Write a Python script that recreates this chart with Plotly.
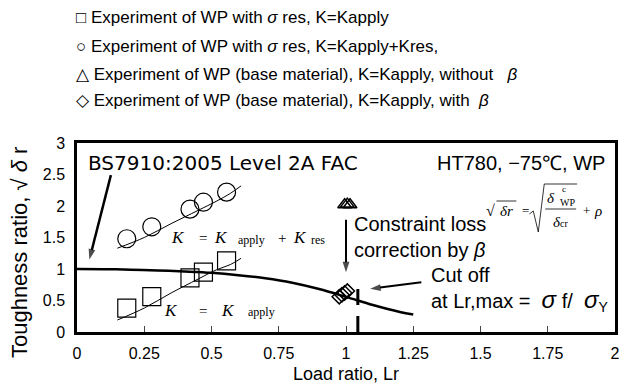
import plotly.graph_objects as go

# ---- data ----
sq_x = [0.185, 0.278, 0.42, 0.47, 0.556]
sq_y = [0.38, 0.56, 0.86, 0.95, 1.13]
ci_x = [0.185, 0.278, 0.42, 0.47, 0.556]
ci_y = [1.48, 1.67, 1.95, 2.06, 2.22]
tri_x = [0.995, 1.005, 1.015]
tri_y = [2.02, 2.03, 2.02]
dia_x = [0.975, 0.985, 0.995, 1.005]
dia_y = [0.56, 0.59, 0.62, 0.65]
fad_x = [0, 0.1, 0.2, 0.3, 0.4, 0.5, 0.6, 0.7, 0.8, 0.9, 1.0, 1.1, 1.2, 1.25]
fad_y = [1.0, 0.998, 0.99, 0.978, 0.961, 0.939, 0.902, 0.853, 0.782, 0.682, 0.558, 0.428, 0.318, 0.278]
kres_x = [0.15, 0.25, 0.35, 0.45, 0.52, 0.57, 0.61]
kres_y = [1.33, 1.5, 1.72, 1.93, 2.08, 2.2, 2.32]
kapp_x = [0.15, 0.25, 0.35, 0.45, 0.52, 0.57, 0.61]
kapp_y = [0.19, 0.38, 0.62, 0.84, 0.99, 1.07, 1.17]
cut_x = [1.044, 1.044]
cut_y = [0.0, 0.72]
x_ticks = [0, 0.25, 0.5, 0.75, 1, 1.25, 1.5, 1.75, 2]
x_ticktext = ["0", "0.25", "0.5", "0.75", "1", "1.25", "1.5", "1.75", "2"]
y_ticks = [0, 0.5, 1, 1.5, 2, 2.5, 3]
y_ticktext = ["0", "0.5", "1", "1.5", "2", "2.5", "3"]
legend_lines = [
    "□ Experiment of WP with <i>σ</i> res, K=Kapply",
    "○ Experiment of WP with <i>σ</i> res, K=Kapply+Kres,",
    "△ Experiment of WP (base material), K=Kapply, without&nbsp;&nbsp;&nbsp;<i>β</i>",
    "◇ Experiment of WP (base material), K=Kapply, with&nbsp;&nbsp;<i>β</i>",
]

FONT = "Liberation Sans, Arial, sans-serif"
WIDE = "DejaVu Sans, sans-serif"
SERIF = "Liberation Serif, Times New Roman, serif"

# layout geometry (pixels) used to place annotations
L, T, W, H = 77, 143, 540, 189


def X(px):
    return (px - L) / W * 2.0


def Y(py):
    return (T + H - py) / H * 3.0


fig = go.Figure()
fig.add_trace(go.Scatter(x=fad_x, y=fad_y, mode="lines", line=dict(color="black", width=2.5, shape="spline"), showlegend=False))
fig.add_trace(go.Scatter(x=kres_x, y=kres_y, mode="lines", line=dict(color="black", width=1, shape="spline"), showlegend=False))
fig.add_trace(go.Scatter(x=kapp_x, y=kapp_y, mode="lines", line=dict(color="black", width=1, shape="spline"), showlegend=False))
fig.add_trace(go.Scatter(x=cut_x, y=cut_y, mode="lines", line=dict(color="black", width=3, dash="16px,11px"), showlegend=False))
fig.add_trace(go.Scatter(x=sq_x, y=sq_y, mode="markers", marker=dict(symbol="square-open", size=18, color="black", line=dict(width=1.2)), showlegend=False))
fig.add_trace(go.Scatter(x=ci_x, y=ci_y, mode="markers", marker=dict(symbol="circle-open", size=18, color="black", line=dict(width=1.2)), showlegend=False))
fig.add_trace(go.Scatter(x=tri_x, y=tri_y, mode="markers", marker=dict(symbol="triangle-up-open", size=12, color="black", line=dict(width=1.5)), showlegend=False))
fig.add_trace(go.Scatter(x=dia_x, y=dia_y, mode="markers", marker=dict(symbol="diamond-open", size=11, color="black", line=dict(width=1.5)), showlegend=False))

# arrows (shaft + head) drawn as line traces with an arrow marker at the end
arrows = [((0.126, 2.49), (0.046, 1.15), 2.5), ((1.0, 1.78), (1.0, 0.95), 2), ((1.28, 0.79), (1.09, 0.685), 2)]
for (x0, y0), (x1, y1), w in arrows:
    fig.add_trace(go.Scatter(x=[x0, x1], y=[y0, y1], mode="lines+markers", showlegend=False, hoverinfo="skip",
                             line=dict(color="black", width=w),
                             marker=dict(symbol=["circle", "arrow"], size=[0, 11], color="black", angleref="previous",
                                         line=dict(width=0))))


def txt(text, x, y, size, family=FONT, xanchor="left", yanchor="middle", align="left"):
    return dict(text=text, x=x, y=y, xref="x", yref="y", xanchor=xanchor, yanchor=yanchor, align=align,
                showarrow=False, font=dict(family=family, size=size, color="black"))


ann = []
for i, t in enumerate(legend_lines):
    ann.append(dict(text=t, xref="paper", yref="paper", x=-0.005, y=1 + (143 - [17, 46, 74, 101][i]) / 189.0,
                    xanchor="left", yanchor="middle", showarrow=False,
                    font=dict(family=FONT, size=17, color="black")))

ann += [
    txt("BS7910:2005 Level 2A FAC", X(86), Y(163), 20, WIDE),
    txt("HT780, −75℃, WP", X(609), Y(163), 20, xanchor="right"),
    txt("Constraint loss<br>correction by <i>β</i>", X(353), Y(237), 20),
    txt("Cut off<br>at Lr,max =&nbsp;&nbsp;<span style='font-size:24px'><i>σ</i></span> f/&nbsp;&nbsp;<span style='font-size:24px'><i>σ</i></span><sub>Y</sub>",
        X(430), Y(289), 20),
    # K = K apply + K res
    txt("<i>K</i>", X(178), Y(237), 17, SERIF, xanchor="center"),
    txt("=", X(203), Y(238), 15, SERIF, xanchor="center"),
    txt("<i>K</i>", X(222), Y(237), 17, SERIF, xanchor="center"),
    txt("apply", X(252), Y(240), 12, SERIF, xanchor="center"),
    txt("+", X(283), Y(238), 15, SERIF, xanchor="center"),
    txt("<i>K</i>", X(301), Y(237), 17, SERIF, xanchor="center"),
    txt("res", X(319), Y(240), 12, SERIF, xanchor="center"),
    # K = K apply
    txt("<i>K</i>", X(171), Y(310), 17, SERIF, xanchor="center"),
    txt("=", X(203), Y(311), 15, SERIF, xanchor="center"),
    txt("<i>K</i>", X(229), Y(310), 17, SERIF, xanchor="center"),
    txt("apply", X(262), Y(312), 12, SERIF, xanchor="center"),
    # formula sqrt(dr) = sqrt(d^c_WP / d_cr) + rho
    txt("√", X(492), Y(210), 16, SERIF, xanchor="center"),
    txt("<i>δr</i>", X(508), Y(211), 15, SERIF, xanchor="center"),
    txt("=", X(527), Y(210), 13, SERIF, xanchor="center"),
    txt("<i>δ</i>", X(553), Y(198), 15, SERIF, xanchor="center"),
    txt("c", X(566), Y(189), 9, SERIF, xanchor="center"),
    txt("WP", X(569), Y(202), 10, SERIF, xanchor="center"),
    txt("<i>δ</i><span style='font-size:10px'>cr</span>", X(562), Y(222), 15, SERIF, xanchor="center"),
    txt("+", X(588), Y(210), 13, SERIF, xanchor="center"),
    txt("<i>ρ</i>", X(600), Y(211), 15, SERIF, xanchor="center"),
    # axis titles
    dict(text="Load ratio, Lr", x=0.5, y=-0.222, xref="paper", yref="paper", xanchor="center", yanchor="middle",
         showarrow=False, font=dict(family=FONT, size=18, color="black")),
    dict(text="Toughness ratio, √ <i>δ</i> r", x=-0.107, y=0.42, xref="paper", yref="paper", xanchor="center",
         yanchor="middle", textangle=-90, showarrow=False, font=dict(family=FONT, size=22, color="black")),
]

shapes = [
    # overline of small radical
    dict(type="line", x0=X(498), x1=X(518), y0=Y(201), y1=Y(201), xref="x", yref="y", line=dict(color="black", width=0.8)),
    # big radical
    dict(type="path", xref="x", yref="y",
         path=f"M {X(531)} {Y(214)} L {X(535)} {Y(211)} L {X(540)} {Y(232)} L {X(546)} {Y(184)} L {X(579)} {Y(184)}",
         line=dict(color="black", width=0.8)),
    # fraction bar
    dict(type="line", x0=X(547), x1=X(578), y0=Y(209), y1=Y(209), xref="x", yref="y", line=dict(color="black", width=0.8)),
]

fig.update_layout(
    width=632, height=385,
    margin=dict(l=L, r=632 - L - W, t=T, b=385 - T - H),
    paper_bgcolor="white", plot_bgcolor="white",
    annotations=ann, shapes=shapes,
    font=dict(family=FONT, color="black"),
)
fig.update_xaxes(range=[0, 2], tickvals=x_ticks, ticktext=x_ticktext, ticks="inside", ticklen=6, tickwidth=1,
                 showline=True, linecolor="black", linewidth=2.5, mirror=True, showgrid=False, zeroline=False,
                 ticklabelstandoff=5, tickfont=dict(family=FONT, size=16, color="black"))
fig.update_yaxes(range=[0, 3], tickvals=y_ticks, ticktext=y_ticktext, ticks="", showline=True, linecolor="black",
                 linewidth=2.5, mirror=True, showgrid=False, zeroline=False, ticklabelstandoff=6,
                 tickfont=dict(family=FONT, size=16, color="black"))

fig.write_html("out.html")
